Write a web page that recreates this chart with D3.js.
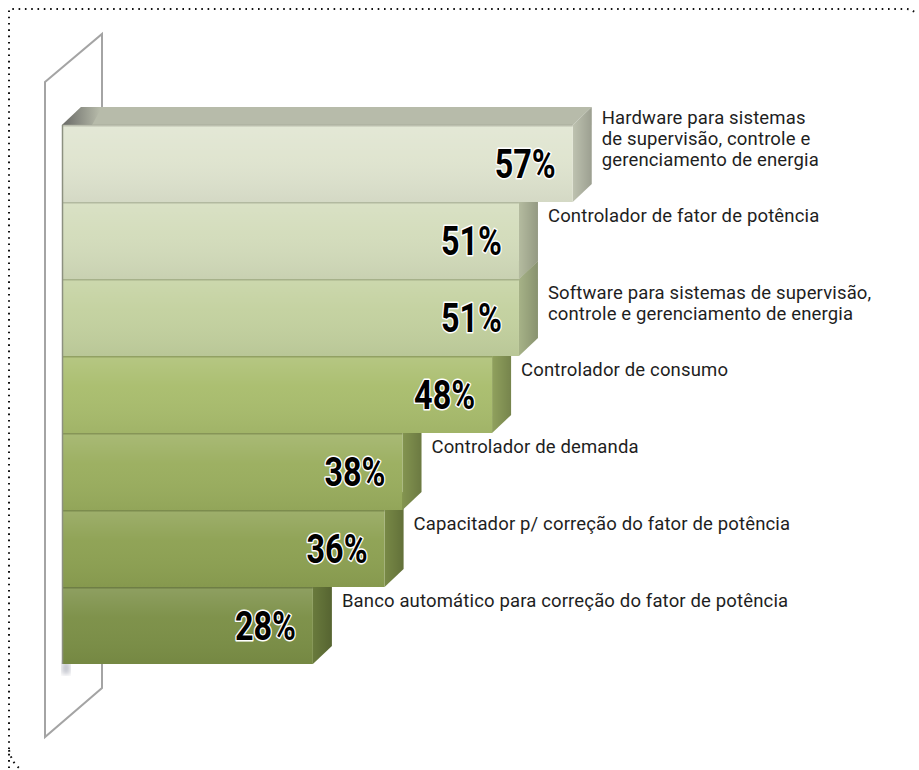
<!DOCTYPE html>
<html lang="pt">
<head>
<meta charset="utf-8">
<title>Produtos</title>
<script src="https://cdn.jsdelivr.net/npm/d3@7"></script>
<style>
  body { margin: 0; background: #fff; }
  svg { display: block; }
  .cat { font-family: Roboto, "Open Sans", sans-serif; font-size: 18.5px; fill: #1e1e1e; letter-spacing: 0.15px; }
  .pct { font-family: "Liberation Sans Narrow", Roboto, sans-serif; font-weight: bold; font-size: 40px;
         fill: #000; stroke: #fff; stroke-width: 3px; paint-order: stroke; stroke-linejoin: round; }
</style>
</head>
<body>
<script>
// data
var categories = [
  "Hardware para sistemas\nde supervisão, controle e\ngerenciamento de energia",
  "Controlador de fator de potência",
  "Software para sistemas de supervisão,\ncontrole e gerenciamento de energia",
  "Controlador de consumo",
  "Controlador de demanda",
  "Capacitador p/ correção do fator de potência",
  "Banco automático para correção do fator de potência"
]
var values = [57, 51, 51, 48, 38, 36, 28]
var valueLabels = ["57%", "51%", "51%", "48%", "38%", "36%", "28%"]

var palette = ["#dfe4cf", "#d3dcbb", "#c3d19f", "#a9bd6d", "#9aae5e", "#8da152", "#7b8f46"]

var w = 919, h = 770
var dx = 19, dy = -18   // depth of the 3d bars

var x = d3.scaleLinear().domain([0, 100]).range([62, 958])
var y = d3.scaleBand().domain(d3.range(categories.length)).range([125, 664]).padding(0)

var svg = d3.select("body").append("svg").attr("width", w).attr("height", h)
var defs = svg.append("defs")

// dotted frame
svg.append("path")
   .attr("d", "M9,768 L9,9 L906,9 Q913,9 917,15")
   .attr("fill", "none").attr("stroke", "#111").attr("stroke-width", 2)
   .attr("stroke-dasharray", "1.6 4.7")
svg.append("path")
   .attr("d", "M9,750 Q12,764 22,770")
   .attr("fill", "none").attr("stroke", "#111").attr("stroke-width", 2)
   .attr("stroke-dasharray", "1.6 4.7")

// wall panel
svg.append("path")
   .attr("d", "M45,82 L102,34 L102,688 L45,737 Z")
   .attr("fill", "#fff").attr("stroke", "#a4a4a4").attr("stroke-width", 2)

// shadow under last bar
var blur = defs.append("filter").attr("id", "blur")
blur.append("feGaussianBlur").attr("stdDeviation", 2.5)
svg.append("rect").attr("x", 62).attr("y", 662).attr("width", 8).attr("height", 12)
   .attr("fill", "#7a7f92").attr("opacity", 0.45).attr("filter", "url(#blur)")

// gradients
var shine = defs.append("linearGradient").attr("id", "shine").attr("x1", 0).attr("y1", 0).attr("x2", 0).attr("y2", 1)
shine.append("stop").attr("offset", "0%").attr("stop-color", "#fff").attr("stop-opacity", 0.15)
shine.append("stop").attr("offset", "40%").attr("stop-color", "#fff").attr("stop-opacity", 0.03)
shine.append("stop").attr("offset", "100%").attr("stop-color", "#000").attr("stop-opacity", 0.05)

var sideG = defs.append("linearGradient").attr("id", "sideG").attr("x1", 0).attr("y1", 0).attr("x2", 1).attr("y2", 0)
sideG.append("stop").attr("offset", "0%").attr("stop-color", "#000").attr("stop-opacity", 0)
sideG.append("stop").attr("offset", "100%").attr("stop-color", "#000").attr("stop-opacity", 0.18)

var topShadow = defs.append("linearGradient").attr("id", "topShadow")
  .attr("gradientUnits", "userSpaceOnUse").attr("x1", 62).attr("x2", 100).attr("y1", 0).attr("y2", 0)
topShadow.append("stop").attr("offset", "0%").attr("stop-color", "#555").attr("stop-opacity", 0.8)
topShadow.append("stop").attr("offset", "100%").attr("stop-color", "#555").attr("stop-opacity", 0)

// bars, drawn bottom first so upper bars cover
var idx = d3.range(values.length).reverse()
var bars = svg.selectAll("g.bar").data(idx).enter().append("g").attr("class", "bar")

bars.each(function(i) {
  var g = d3.select(this)
  var x0 = x(0), x1 = x(values[i]), y0 = y(i), y1 = y(i) + y.bandwidth()
  var base = d3.color(palette[i])

  // top face
  g.append("path")
   .attr("d", "M" + x0 + "," + y0 + " L" + (x0 + dx) + "," + (y0 + dy) + " L" + (x1 + dx) + "," + (y0 + dy) + " L" + x1 + "," + y0 + " Z")
   .attr("fill", base.darker(0.55))
  g.append("path")
   .attr("d", "M" + x0 + "," + y0 + " L" + (x0 + dx) + "," + (y0 + dy) + " L" + (x0 + 40) + "," + (y0 + dy) + " L" + (x0 + 30) + "," + y0 + " Z")
   .attr("fill", "url(#topShadow)")

  // right side face
  var side = "M" + x1 + "," + y0 + " L" + (x1 + dx) + "," + (y0 + dy) + " L" + (x1 + dx) + "," + (y1 + dy) + " L" + x1 + "," + y1 + " Z"
  g.append("path").attr("d", side).attr("fill", base.darker(0.45))
  g.append("path").attr("d", side).attr("fill", "url(#sideG)")

  // front face
  g.append("rect").attr("x", x0).attr("y", y0).attr("width", x1 - x0).attr("height", y.bandwidth())
   .attr("fill", base)
  g.append("rect").attr("x", x0).attr("y", y0).attr("width", x1 - x0).attr("height", y.bandwidth())
   .attr("fill", "url(#shine)")
  g.append("line").attr("x1", x0).attr("x2", x1).attr("y1", y0 + 0.5).attr("y2", y0 + 0.5)
   .attr("stroke", base.darker(0.9)).attr("stroke-width", 2).attr("opacity", 0.6)
  g.append("line").attr("x1", x0 + 0.5).attr("x2", x0 + 0.5).attr("y1", y0).attr("y2", y1)
   .attr("stroke", "#8c9080").attr("stroke-width", 1.5)

  // value label
  g.append("text").attr("class", "pct")
   .attr("x", x1 - 17).attr("y", y0 + y.bandwidth() / 2)
   .attr("dy", "0.36em").attr("text-anchor", "end")
   .attr("textLength", 61).attr("lengthAdjust", "spacingAndGlyphs")
   .text(valueLabels[i])

  // category label
  var lines = categories[i].split("\n")
  var ty = y0 + 14 - (lines.length > 2 ? 21 : 0)
  var t = g.append("text").attr("class", "cat")
  lines.forEach(function(s, k) {
    t.append("tspan").attr("x", x1 + dx + 10).attr("y", ty + k * 21).attr("dy", "0.35em").text(s)
  })
})
</script>
</body>
</html>
